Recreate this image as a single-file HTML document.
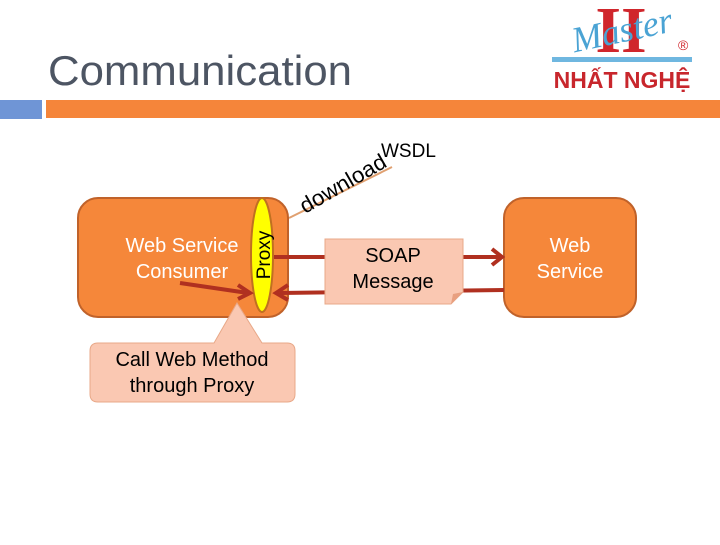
<!DOCTYPE html>
<html><head><meta charset="utf-8"><style>
body{margin:0;width:720px;height:540px;background:#fff;overflow:hidden;font-family:"Liberation Sans",sans-serif}
</style></head><body>
<svg width="720" height="540" viewBox="0 0 720 540" xmlns="http://www.w3.org/2000/svg" font-family="Liberation Sans, sans-serif">
<text x="48" y="85" font-size="42" fill="#4d5563" textLength="304" lengthAdjust="spacingAndGlyphs">Communication</text>
<rect x="0" y="100" width="42" height="19" fill="#6f95d6"/>
<rect x="46" y="100" width="674" height="18" fill="#f5853a"/>
<!-- logo -->
<text x="621" y="52" font-size="66" font-family="Liberation Serif, serif" font-weight="bold" fill="#d0262c" text-anchor="middle">II</text>
<text x="622" y="42" font-size="36" font-family="Liberation Serif, serif" font-style="italic" fill="#4aa3d4" text-anchor="middle" transform="rotate(-12 622 30)">Master</text>
<text x="678" y="50" font-size="14" fill="#d0262c">®</text>
<rect x="552" y="57" width="140" height="5" fill="#6fb7e0"/>
<text x="622" y="88" font-size="23" font-weight="bold" fill="#c8262c" text-anchor="middle" font-family="Liberation Sans, DejaVu Sans, sans-serif">NHẤT NGHỆ</text>
<!-- download line -->
<line x1="289" y1="218" x2="392" y2="167" stroke="#e0a070" stroke-width="2"/>
<text x="0" y="0" font-size="22" fill="#000" textLength="96" lengthAdjust="spacingAndGlyphs" transform="translate(305 214) rotate(-30)">download</text>
<text x="381" y="157" font-size="19" fill="#000">WSDL</text>
<!-- consumer -->
<rect x="78" y="198" width="210" height="119" rx="20" fill="#f5873a" stroke="#c0622a" stroke-width="2"/>
<text x="182" y="252" font-size="20" fill="#fff" text-anchor="middle">Web Service</text>
<text x="182" y="278" font-size="20" fill="#fff" text-anchor="middle">Consumer</text>
<ellipse cx="262" cy="255" rx="11" ry="57" fill="#ffff00" stroke="#c07020" stroke-width="2"/>
<text transform="translate(270 255) rotate(-90)" font-size="19" text-anchor="middle" fill="#000">Proxy</text>
<!-- web service -->
<rect x="504" y="198" width="132" height="119" rx="20" fill="#f5873a" stroke="#c0622a" stroke-width="2"/>
<text x="570" y="252" font-size="20" fill="#fff" text-anchor="middle">Web</text>
<text x="570" y="278" font-size="20" fill="#fff" text-anchor="middle">Service</text>
<!-- arrows -->
<line x1="274" y1="257" x2="500" y2="257" stroke="#b03020" stroke-width="4"/>
<polyline points="492,249 502,257 492,265" fill="none" stroke="#b03020" stroke-width="4"/>
<line x1="504" y1="290" x2="280" y2="293" stroke="#b03020" stroke-width="4"/>
<polyline points="288,285 276,293 288,300" fill="none" stroke="#b03020" stroke-width="4"/>
<line x1="180" y1="283" x2="248" y2="293" stroke="#b03020" stroke-width="4"/>
<polyline points="238,285 250,293 238,299" fill="none" stroke="#b03020" stroke-width="4"/>
<!-- soap -->
<path d="M325 239 H463 V292 L451 304 H325 Z" fill="#fac8b2" stroke="#e8a888" stroke-width="1"/>
<path d="M451 304 L453 294 L463 292 Z" fill="#e8a080"/>
<text x="393" y="262" font-size="20" fill="#000" text-anchor="middle">SOAP</text>
<text x="393" y="288" font-size="20" fill="#000" text-anchor="middle">Message</text>
<!-- callout -->
<path d="M98 343 H214 L237 303 L262 343 H287 Q295 343 295 351 V394 Q295 402 287 402 H98 Q90 402 90 394 V351 Q90 343 98 343 Z" fill="#fac8b2" stroke="#e8a888" stroke-width="1"/>
<text x="192" y="366" font-size="20" fill="#000" text-anchor="middle">Call Web Method</text>
<text x="192" y="392" font-size="20" fill="#000" text-anchor="middle">through Proxy</text>
</svg>
</body></html>
